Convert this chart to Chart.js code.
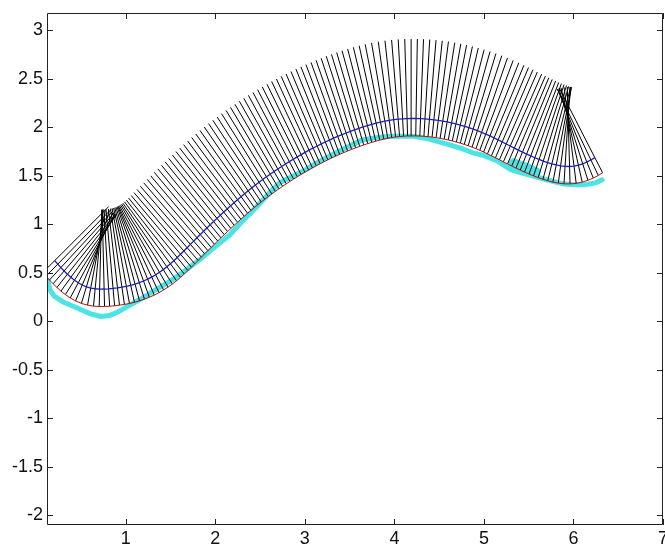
<!DOCTYPE html>
<html>
<head>
<meta charset="utf-8">
<script src="https://cdn.jsdelivr.net/npm/chart.js@4/dist/chart.umd.min.js"></script>
<style>
  html, body { margin: 0; background: #fff; }
  canvas { display: block; }
</style>
</head>
<body>
<canvas id="myChart" width="665" height="549"></canvas>
<script>
// spine (blue curve)
const spineX = [0.2063,0.2402,0.2751,0.3111,0.3483,0.3868,0.427,0.4692,0.5136,0.5601,0.6085,0.658,0.7079,0.7579,0.8078,0.8577,0.9074,0.9569,1.0061,1.055,1.1033,1.1511,1.1981,1.2443,1.2895,1.3335,1.3765,1.4183,1.4589,1.4984,1.5369,1.5746,1.6118,1.6486,1.6852,1.7218,1.7584,1.7951,1.8319,1.8689,1.906,1.9433,1.9808,2.0184,2.0562,2.0941,2.1322,2.1705,2.2091,2.248,2.2872,2.3268,2.3667,2.407,2.4476,2.4885,2.5297,2.5713,2.6132,2.6554,2.6979,2.7406,2.7836,2.8269,2.8705,2.9143,2.9584,3.0028,3.0474,3.0923,3.1375,3.1829,3.2286,3.2745,3.3207,3.3671,3.4138,3.4607,3.5078,3.5552,3.6028,3.6506,3.6986,3.7469,3.7954,3.8442,3.8932,3.9425,3.9921,4.0418,4.0917,4.1416,4.1916,4.2416,4.2916,4.3415,4.3914,4.4411,4.4907,4.5401,4.5893,4.6384,4.6872,4.7358,4.7841,4.8322,4.8799,4.9273,4.9743,5.0209,5.0671,5.1129,5.1585,5.2039,5.2493,5.2945,5.3397,5.3851,5.4307,5.4766,5.5226,5.569,5.6158,5.663,5.7107,5.7588,5.8074,5.8566,5.9063,5.9563,6.0061,6.0552,6.1031,6.1497,6.1948,6.2385];
const spineY = [0.6268,0.5901,0.5543,0.5195,0.4861,0.4543,0.4245,0.3977,0.3746,0.3562,0.3437,0.3363,0.3333,0.3335,0.3359,0.34,0.3455,0.3524,0.3611,0.3717,0.3844,0.3993,0.4162,0.4353,0.4568,0.4805,0.5061,0.5335,0.5627,0.5934,0.6253,0.6581,0.6916,0.7254,0.7595,0.7936,0.8277,0.8617,0.8955,0.9292,0.9627,0.996,1.0291,1.0621,1.0948,1.1274,1.1598,1.192,1.2238,1.2552,1.2862,1.3168,1.3469,1.3766,1.4058,1.4346,1.4629,1.4907,1.518,1.5449,1.5713,1.5973,1.6228,1.6478,1.6723,1.6963,1.7198,1.7428,1.7653,1.7873,1.8088,1.8297,1.85,1.8697,1.8888,1.9073,1.9252,1.9425,1.9592,1.9753,1.9907,2.0055,2.0194,2.0324,2.0444,2.0554,2.0652,2.0735,2.0802,2.0854,2.0891,2.0914,2.0923,2.092,2.0905,2.0879,2.084,2.0789,2.0726,2.0651,2.0563,2.0465,2.0358,2.024,2.0113,1.9974,1.9825,1.9664,1.9493,1.9312,1.912,1.8919,1.8713,1.8505,1.8294,1.8081,1.7867,1.7658,1.7453,1.7253,1.7058,1.6872,1.6697,1.6532,1.6381,1.6245,1.6126,1.6038,1.5982,1.5971,1.6013,1.6106,1.6249,1.6431,1.6646,1.6888];

// length of each normal below / above the spine
const normalBelow = 0.18;
const normalAbove = 0.82;

// cyan points under the lower edge
const cyanX = [0.13,0.15,0.2,0.3,0.45,0.6,0.72,0.82,0.92,1.01,1.15,1.27,1.4,1.52,1.67,1.83,2.0,2.16,2.31,2.46,2.6,2.72,2.87,3.02,3.2,3.46,3.64,3.83,4.0,4.2,4.39,4.58,4.76,4.87,5.0,5.14,5.31,5.5,5.7,5.87,6.0,6.14,6.25,6.32];
const cyanY = [0.42,0.33,0.26,0.2,0.14,0.08,0.05,0.06,0.1,0.15,0.22,0.29,0.36,0.43,0.53,0.64,0.77,0.89,1.04,1.18,1.32,1.43,1.5,1.57,1.67,1.79,1.87,1.9,1.91,1.91,1.88,1.83,1.78,1.74,1.71,1.66,1.56,1.51,1.46,1.42,1.41,1.41,1.43,1.46];
const patchX = [5.33,5.45,5.58];
const patchY = [1.63,1.59,1.54];

const xTicks = [1,2,3,4,5,6,7];
const yTicks = [-2,-1.5,-1,-0.5,0,0.5,1,1.5,2,2.5,3];

const ctx = document.getElementById('myChart');

// ends of the normals
let lower = [], upper = [];
for (let i = 0; i < spineX.length; i++) {
  let a = Math.max(i - 1, 0), b = Math.min(i + 1, spineX.length - 1);
  let tx = spineX[b] - spineX[a], ty = spineY[b] - spineY[a];
  let len = Math.hypot(tx, ty);
  let nx = -ty / len, ny = tx / len;
  lower.push({x: spineX[i] - nx * normalBelow, y: spineY[i] - ny * normalBelow});
  upper.push({x: spineX[i] + nx * normalAbove, y: spineY[i] + ny * normalAbove});
}

let datasets = [];
for (let i = 0; i < spineX.length; i++) {
  datasets.push({
    data: [lower[i], upper[i]],
    borderColor: '#000',
    borderWidth: 1,
    order: 5
  });
}
datasets.push({
  data: lower,
  borderColor: 'rgb(170,20,20)',
  borderWidth: 1,
  order: 3
});
datasets.push({
  data: spineX.map((x, i) => ({x: x, y: spineY[i]})),
  borderColor: 'rgb(30,30,175)',
  borderWidth: 1.3,
  order: 1
});
datasets.push({
  data: cyanX.map((x, i) => ({x: x, y: cyanY[i]})),
  borderColor: 'rgb(75,228,228)',
  borderWidth: 5,
  borderCapStyle: 'round',
  borderJoinStyle: 'round',
  order: 10
});
datasets.push({
  data: patchX.map((x, i) => ({x: x, y: patchY[i]})),
  borderColor: 'rgb(75,228,228)',
  borderWidth: 10,
  borderCapStyle: 'round',
  borderJoinStyle: 'round',
  order: 10
});
datasets.forEach(d => { d.showLine = true; d.pointRadius = 0; d.clip = 0; d.tension = 0; });

// matlab style box with inward ticks on all sides
const frame = {
  id: 'frame',
  afterDraw(chart) {
    const c = chart.ctx, a = chart.chartArea;
    const sx = chart.scales.x, sy = chart.scales.y;
    c.save();
    c.strokeStyle = '#222';
    c.lineWidth = 1;
    c.beginPath();
    c.rect(a.left + 0.5, a.top + 0.5, a.right - a.left - 1, a.bottom - a.top - 1);
    xTicks.forEach(v => {
      let px = Math.round(sx.getPixelForValue(v)) + 0.5;
      c.moveTo(px, a.bottom); c.lineTo(px, a.bottom - 6);
      c.moveTo(px, a.top); c.lineTo(px, a.top + 6);
    });
    yTicks.forEach(v => {
      let py = Math.round(sy.getPixelForValue(v)) + 0.5;
      c.moveTo(a.left, py); c.lineTo(a.left + 6, py);
      c.moveTo(a.right, py); c.lineTo(a.right - 6, py);
    });
    c.stroke();
    c.restore();
  }
};

const tickFont = {family: 'Liberation Sans, Arial, sans-serif', size: 18};

new Chart(ctx, {
  type: 'scatter',
  data: {datasets: datasets},
  options: {
    responsive: false,
    animation: false,
    devicePixelRatio: 1,
    layout: {padding: {top: 13, right: 2, left: 0, bottom: 0}},
    plugins: {legend: {display: false}, tooltip: {enabled: false}},
    scales: {
      x: {
        type: 'linear',
        min: 0.12,
        max: 7,
        grid: {display: false, drawTicks: false},
        border: {display: false},
        afterBuildTicks: s => { s.ticks = xTicks.map(v => ({value: v})); },
        afterFit: s => { s.height = 24; s.paddingLeft = 0; s.paddingRight = 0; },
        ticks: {font: tickFont, color: '#111', padding: 3, maxRotation: 0, autoSkip: false, callback: v => String(v)}
      },
      y: {
        type: 'linear',
        min: -2.1,
        max: 3.18,
        grid: {display: false, drawTicks: false},
        border: {display: false},
        afterBuildTicks: s => { s.ticks = yTicks.map(v => ({value: v})); },
        afterFit: s => { s.width = 47; s.paddingTop = 0; s.paddingBottom = 0; },
        ticks: {font: tickFont, color: '#111', padding: 4, autoSkip: false, callback: v => String(v)}
      }
    }
  },
  plugins: [frame]
});
</script>
</body>
</html>
